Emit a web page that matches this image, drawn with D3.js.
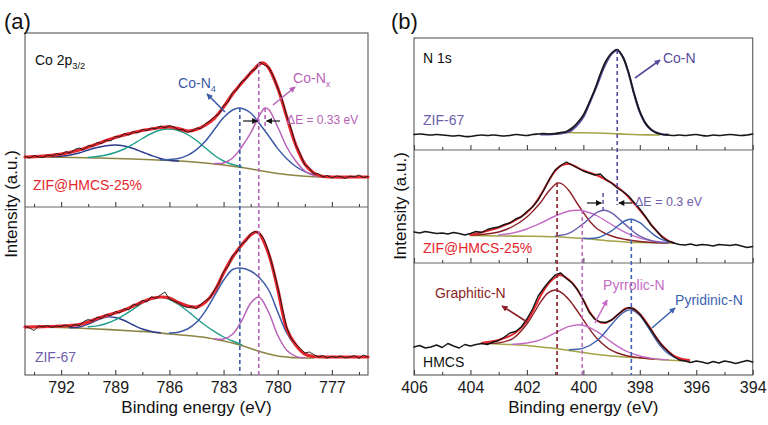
<!DOCTYPE html>
<html><head><meta charset="utf-8">
<script src="https://cdn.jsdelivr.net/npm/d3@7"></script>
<style>body{margin:0;background:#fff}svg{display:block;font-family:"Liberation Sans",Arial,sans-serif}</style>
</head><body><script>
// ---------------- DATA (intensities in a.u.) ----------------
// Panel (a) Co 2p3/2 — energy grid for raw data: start 794 eV, step 0.25 eV
const aStart = 794, aStep = 0.25;
const a1Raw = [50.5,49,51.5,50,49.5,52,51,53.5,52,55.5,54,57.5,59,57,61.5,60.5,64.5,63.5,67,66,70.5,70,73.5,72,75.5,74,77.5,76.5,79,78,81,79,81.5,80,77,77.5,74.5,76,79,78.5,83.5,86,90.5,93,101.5,105,114.5,117.5,125.5,128,135.5,137.5,145,142,140,131,119,107.5,91,78,62,53.5,42,39,33,33.5,30,31.5,29,31,30.5,28.5,31,30,32,29.5,30.5];
const a1Fit = [[794,50],[793,50.8],[792,52.8],[791,57],[790.5,60],[790,63],[789.5,66.5],[789,69.5],[788.5,72],[788,74.5],[787.5,76.5],[787,78],[786.5,79.5],[786,80],[785.5,78.5],[785,76],[784.5,77.5],[784,82],[783.5,89],[783,100],[782.5,113],[782,124],[781.5,134],[781,143],[780.8,144],[780.5,139],[780,119],[779.5,90],[779,62],[778.5,43],[778,34],[777.5,30.5],[777,30],[776,30],[775,30]];
const a1Bg = [[794,50],[792,49.7],[790,49],[788,48],[786,46.5],[785,45.5],[784,44],[783,42],[782,39.5],[781,36.5],[780,33.5],[779,31.5],[778,30.2],[777.5,30]];
const a1Sat = [[792.5,50.2],[792,50.8],[791.5,52],[791,54],[790.5,57],[790,59.5],[789.5,61.3],[789,62],[788.5,61],[788,58.5],[787.5,55],[787,51.5],[786.5,48.5],[786,46.8],[785.5,46]];
const a1Sat2 = [[790.5,49.5],[790,50.5],[789.5,52],[789,54.5],[788.5,58],[788,63],[787.5,68.5],[787,73.5],[786.5,77],[786.1,78],[785.5,76.5],[785,72.5],[784.5,66.5],[784,59],[783.5,51.5],[783,46],[782.5,42.5],[782,40.2]];
const a1CoN4 = [[786.5,47.2],[786,47.5],[785.5,48.6],[785,51.6],[784.5,57.4],[784,66],[783.5,77.7],[783,89.4],[782.5,97],[782.1,99],[781.5,94],[781,83],[780.5,71],[780,58.4],[779.5,48.3],[779,40.5],[778.5,35.4],[778,32.2],[777.5,31]];
const a1CoNx = [[783.5,43.5],[783,44],[782.5,49],[782,60],[781.5,74],[781,92],[780.7,99],[780.5,97.5],[780,80],[779.5,60],[779,46],[778.5,36],[778,31.5],[777.5,30.2]];

const a2Raw = [48.5,47,44.5,49,48,49.5,47.5,49,48.5,50,48,50.5,49.5,53.5,55.5,54,58,56.5,60.5,59,63.5,62,66.5,65,71,69.5,75,73,78.5,76.5,80,83,76,74,72,69,67.5,68.5,66,71,74.5,77,85.5,92,103.5,108.5,119.5,123,131.5,134,141.5,143.5,142,135.5,123,106.5,88,67.5,47.5,36,31,26.5,22,23,20.5,18,19.5,17,18.5,17.5,19,17,18,19.5,16.5,20,18];
const a2Fit = [[794,48],[793,48.3],[792,49],[791.5,49.5],[791,50.5],[790.5,53],[790,56.5],[789.5,59.5],[789,62],[788.5,65],[788,69],[787.5,73],[787,76.5],[786.5,78],[786,77],[785.5,72.5],[785,69],[784.5,68],[784,73],[783.5,84],[783,102],[782.5,118],[782,130],[781.5,140],[781.2,143],[781,141],[780.5,121],[780,86],[779.5,46],[779,30],[778.5,21],[778,18.5],[777.5,18],[777,18],[776,18],[775,18]];
const a2Bg = [[794,48],[792,47.5],[790,46],[788,44],[787,43],[786,41],[785,39.5],[784,37.5],[783,34],[782.5,32],[782,29.5],[781.5,26.5],[781,23.5],[780.5,21],[780,19],[779.5,18],[779,17.2],[778,17]];
const a2Sat = [[791.5,47.2],[791,48],[790.5,51],[790,55],[789.5,58],[789,57.5],[788.5,54.5],[788,50],[787.5,46],[787,43.5],[786.5,42.2]];
const a2Sat2 = [[790.5,48.3],[790,49.1],[789.5,51.5],[789,55.2],[788.5,60.2],[788,65.9],[787.5,71.8],[787,76.2],[786.4,77.8],[786,75.4],[785.5,70.7],[785,64],[784.5,56.5],[784,49.5],[783.5,43.3],[783,38],[782.5,34],[782,30.4]];
const a2CoN4 = [[786,41.9],[785.5,42.8],[785,46],[784.5,52.7],[784,64.2],[783.5,79.3],[783,94.7],[782.5,105.5],[782.1,107],[781.5,104],[781,97],[780.5,85],[780,63],[779.5,42],[779,29],[778.5,21],[778,17.5]];
const a2CoNx = [[783.5,36.3],[783,36],[782.5,40.7],[782,54.1],[781.5,71.8],[781.05,78],[780.5,62.5],[780,39.7],[779.5,24.7],[779,18.6],[778.5,17.2]];

// Panel (b) N 1s — energy grid for raw data: start 406 eV, step 0.2 eV
const bStart = 406, bStep = 0.2;
const b1Raw = [15.5,16,15.5,15,15.5,15,14.5,14,14.5,13.5, 13.5,14.5,15,14.5,15,14.5,14,14.5,15.5,15, 14.5,15.5,16,16.5,16,16.5,17.5,18.5,22,27.5, 35,47,60,76,89,97,100.5,93,77.5,56, 38.5,27,20.5,17,15.5,15,14.5,15,14.5,15, 15.5,14.5,14,15,14.5,15,15.5,15,14.5,15, 16];
const b1CoN = [[401.5,15.5],[401,16],[400.5,18.5],[400.25,24],[400,33],[399.75,49],[399.5,66],[399.25,84],[399,96],[398.8,99.5],[398.6,93],[398.4,77],[398.2,56],[398,38],[397.75,24.5],[397.5,18.5],[397.25,16],[397,15.3]];
const b1Bg = [[400.8,17.5],[400,17.3],[399,16.5],[398.5,15.8],[398,15.3],[397.3,15]];

const b2Raw = [31,30,31.5,30.5,29.5,30,29,30.5,29.5,28, 29.5,31.5,30.5,33.5,35,36,38.5,40,44,46, 51.5,56,63,73,84,93,97.5,101,98,95, 92,90,88,89,83.5,80,75,71.5,67,60.5, 54,46.5,38,32,25.5,22,20,18.5,18,19, 17.5,18.5,18,17,18.5,18,17.5,18.5,17,15.5, 16.5];
const b2Fit = [[404,28],[403.5,31.5],[403,35.5],[402.5,41.5],[402,50.5],[401.75,58],[401.5,68.5],[401.25,81],[401,92],[400.75,98],[400.5,99],[400.25,96],[400,92.5],[399.75,90],[399.5,87.5],[399.25,84],[399,80],[398.75,75],[398.5,69],[398.25,61],[398,53],[397.75,44],[397.5,35],[397.25,27.5],[397,22.5],[396.8,20]];
const b2Bg = [[404,27.5],[403,27],[402,26.8],[401,26.2],[400,24.5],[399,22],[398.5,21],[398,20.5],[397,20],[396.8,20]];
const b2Graph = [[404,27.8],[403.5,28.8],[403,31],[402.5,36.5],[402,46],[401.75,53],[401.5,61],[401.25,71],[401,78.5],[400.93,80],[400.75,79],[400.5,72],[400.25,61],[400,50.5],[399.75,41],[399.5,34],[399,27],[398.5,23.5],[398,21.5],[397.5,20.5],[397,20]];
const b2Pyrr = [[403,28],[402.5,30],[402,34],[401.5,40],[401,47],[400.5,52],[400.15,52.7],[399.75,50],[399.5,47],[399,38.5],[398.5,30.4],[398,24.9],[397.5,21.9],[397,20.5]];
const b2CoN = [[401,26.9],[400.5,29.8],[400,39.4],[399.5,50.9],[399.25,52.7],[399,50.2],[398.5,38.1],[398,26.8],[397.5,21.6],[397,20.2]];
const b2Pyri = [[400,24.7],[399.5,25.3],[399,32.2],[398.75,37.8],[398.5,42.5],[398.3,43.8],[398,40.3],[397.75,34.3],[397.5,28.1],[397.25,23.8],[397,21.4],[396.8,20.5]];

const b3Raw = [28,29.5,27,28,30,27.5,31.5,29,27,30.5, 29,30.5,31.5,30.5,33,34.5,38,42,43.5,48, 56,66,79,87,94,100,102,96.5,92,85, 75,63,56,53,52.5,55,60,64.5,67.5,66, 61,53,45,36.5,29,23.5,18.5,15,14,12.5, 14,13,11.5,13.5,12,14,13,11.5,13,14.5, 13];
const b3Fit = [[403.6,32],[403.5,32.5],[403,35],[402.5,40.5],[402.25,46],[402,54],[401.75,66],[401.5,80],[401.25,91],[401,97.5],[400.83,100],[400.5,95],[400.25,87],[400,75],[399.75,62],[399.5,54],[399.25,52],[399,55],[398.75,61],[398.5,66.5],[398.35,67],[398.25,66.5],[398,61],[397.75,52],[397.5,41],[397.25,31],[397,24],[396.75,18.5],[396.5,16],[396.25,15]];
const b3Bg = [[403.6,32],[403,31],[402,29.5],[401.5,28],[401,26.5],[400.5,24.5],[400,22.5],[399.5,20.5],[399,19],[398.5,18],[398,17],[397.5,16],[397,15],[396.5,14.3],[396.25,14]];
const b3Graph = [[403.5,32],[403,32.1],[402.5,36.4],[402,51],[401.75,62],[401.5,73.6],[401.25,82.1],[401,85],[400.75,81.9],[400.5,75],[400.25,65.5],[400,55],[399.75,44.8],[399.5,36.1],[399,24.6],[398.5,19.5],[398,17.3],[397.5,16]];
const b3Pyrr = [[402.5,30.8],[402,32],[401.5,35.4],[401,42.1],[400.5,48.6],[400.05,50],[399.5,43.2],[399,32.8],[398.5,24.1],[398,19],[397.5,16.4],[397,15.1]];
const b3Pyri = [[400.5,25.3],[400,26.8],[399.5,34.8],[399,50.5],[398.75,58.4],[398.5,63.9],[398.3,65],[398,59.6],[397.75,49.7],[397.5,38.3],[397.25,28.4],[397,21.5],[396.75,17.5],[396.5,15.3],[396.25,14.1]];

// Tick values
const aMajor = [792,789,786,783,780,777];
const aMinor = [793.5,790.5,787.5,784.5,781.5,778.5,775.5];
const bMajor = [406,404,402,400,398,396,394];
const bMinor = [405,403,401,399,397,395];

// ---------------- DRAWING ----------------
const W=768,H=425, FONT='"Liberation Sans",Arial,sans-serif';
const C = {red:"#e5262d", raw:"#161616", navy:"#2d3a8e", teal:"#1f9e8a", blue:"#3d5aa8", pink:"#b862b8",
  olive:"#8b8442", oliveB:"#a4a446", maroon:"#8b1f26", pinkB:"#c46cc4", slate:"#6a5eae", blueB:"#3d62b0", coN:"#574c9c",
  zif:"#6f60ad", frame:"#666"};
const svg=d3.select("body").append("svg").attr("width",W).attr("height",H).attr("font-family",FONT);

const xA=d3.scaleLinear().domain([794,775]).range([25,368]);
const xB=d3.scaleLinear().domain([406,394]).range([414,752.7]);
const yA1=d3.scaleLinear().domain([0,174]).range([207,33]);
const yA2=d3.scaleLinear().domain([0,168]).range([375,207]);
const yB1=d3.scaleLinear().domain([0,112]).range([150,38]);
const yB2=d3.scaleLinear().domain([0,113]).range([263,150]);
const yB3=d3.scaleLinear().domain([0,112]).range([375,263]);

const defs = svg.append("defs");
function marker(id,color){
  defs.append("marker").attr("id",id).attr("viewBox","0 0 10 10").attr("refX",9).attr("refY",5)
    .attr("markerWidth",7).attr("markerHeight",6).attr("markerUnits","userSpaceOnUse").attr("orient","auto")
    .append("path").attr("d","M0,0L10,5L0,10z").attr("fill",color);
}
Object.entries({mBlue:C.blue,mPink:C.pink,mBlack:"#111",mCoN:C.coN,mMaroon:C.maroon,mPinkB:C.pinkB,mBlueB:C.blueB}).forEach(([k,v])=>marker(k,v));

const rawPts=(start,step,vals)=>vals.map((v,i)=>[start-i*step,v]);
function curve(x,y,pts,color,w,smooth){
  svg.append("path").datum(pts).attr("fill","none").attr("stroke",color).attr("stroke-width",w)
    .attr("stroke-linejoin","round").attr("stroke-linecap","round")
    .attr("d",d3.line().x(d=>x(d[0])).y(d=>y(d[1])).curve(smooth?d3.curveCatmullRom.alpha(0.5):d3.curveLinear));
}
function frame(x0,x1,y0,y1){
  svg.append("rect").attr("x",x0).attr("y",y0).attr("width",x1-x0).attr("height",y1-y0)
    .attr("fill","none").attr("stroke",C.frame).attr("stroke-width",1.2);
}
function xAxis(x,yPos,major,minor,labels){
  const gm=svg.append("g").attr("transform",`translate(0,${yPos})`).call(d3.axisBottom(x).tickValues(minor).tickSize(-3).tickFormat(""));
  const g=svg.append("g").attr("transform",`translate(0,${yPos})`).call(d3.axisBottom(x).tickValues(major).tickSize(-5).tickPadding(6.5).tickFormat(labels?d3.format("d"):""));
  [gm,g].forEach(gg=>{gg.select(".domain").remove();gg.attr("font-family",FONT).attr("font-size",16);
    gg.selectAll("line").attr("stroke","#444").attr("stroke-width",1.1);gg.selectAll("text").attr("fill","#1a1a1a");});
}
function txt(x,y,E,v,str,sub,color,size){
  const t=svg.append("text").attr("x",x(E)).attr("y",y(v)).attr("fill",color).attr("font-size",size).text(str);
  if(sub) t.append("tspan").attr("font-size",size*0.66).attr("dy",size*0.28).text(sub);
  return t;
}
function arrow(x,y,p,color,mk,w){
  svg.append("line").attr("x1",x(p[0])).attr("y1",y(p[1])).attr("x2",x(p[2])).attr("y2",y(p[3]))
    .attr("stroke",color).attr("stroke-width",w||1.6).attr("marker-end",`url(#${mk})`);
}
function vdash(x,E,y1,v1,y2,v2,color){
  svg.append("line").attr("x1",x(E)).attr("x2",x(E)).attr("y1",y1(v1)).attr("y2",y2(v2))
    .attr("stroke",color).attr("stroke-width",1.6).attr("stroke-dasharray","4,3");
}

// ---- panel (a)
frame(25,368,33,375);
svg.append("line").attr("x1",25).attr("x2",368).attr("y1",207).attr("y2",207).attr("stroke",C.frame).attr("stroke-width",1.2);
xAxis(xA,207,aMajor,aMinor,false);
xAxis(xA,375,aMajor,aMinor,true);
// top: ZIF@HMCS-25%
curve(xA,yA1,a1Bg,C.olive,1.6,true);
curve(xA,yA1,a1Sat,C.navy,1.4,true);
curve(xA,yA1,a1Sat2,C.teal,1.4,true);
curve(xA,yA1,a1CoN4,C.blue,1.5,true);
curve(xA,yA1,a1CoNx,C.pink,1.5,true);
curve(xA,yA1,a1Fit,C.red,3.2,true);
curve(xA,yA1,rawPts(aStart,aStep,a1Raw),C.raw,0.9,false);
// bottom: ZIF-67
curve(xA,yA2,a2Bg,C.olive,1.6,true);
curve(xA,yA2,a2Sat,C.navy,1.4,true);
curve(xA,yA2,a2Sat2,C.teal,1.4,true);
curve(xA,yA2,a2CoN4,C.blue,1.5,true);
curve(xA,yA2,a2CoNx,C.pink,1.5,true);
curve(xA,yA2,a2Fit,C.red,3.2,true);
curve(xA,yA2,rawPts(aStart,aStep,a2Raw),C.raw,0.9,false);
// dashed guides
vdash(xA,782.1,yA1,99,yA2,0,C.blue);
vdash(xA,781.05,yA1,144,yA2,0,C.pink);
vdash(xA,780.7,yA1,99,yA1,77,C.pink);
// annotations
txt(xA,yA1,793.45,142,"Co 2p","3/2","#111",14);
txt(xA,yA1,793.56,17,"ZIF@HMCS-25%",null,C.red,14);
txt(xA,yA2,793.45,13,"ZIF-67",null,C.zif,14);
txt(xA,yA1,785.52,119,"Co-N","4",C.blue,14);
arrow(xA,yA1,[782.92,95,783.92,113],C.blue,"mBlue");
txt(xA,yA1,779.15,124,"Co-N","x",C.pink,14);
arrow(xA,yA1,[780.26,102,779.04,120],C.pink,"mPink");
txt(xA,yA1,779.48,83,"ΔE = 0.33 eV",null,C.pink,12);
arrow(xA,yA1,[781.92,86,781.12,86],"#111","mBlack",1.2);
arrow(xA,yA1,[779.87,86,780.62,86],"#111","mBlack",1.2);

// ---- panel (b)
frame(414,752.7,38,375);
[150,263].forEach(yy=>svg.append("line").attr("x1",414).attr("x2",752.7).attr("y1",yy).attr("y2",yy).attr("stroke",C.frame).attr("stroke-width",1.2));
xAxis(xB,150,bMajor,bMinor,false);
xAxis(xB,263,bMajor,bMinor,false);
xAxis(xB,375,bMajor,bMinor,true);
// top: ZIF-67
curve(xB,yB1,b1Bg,C.oliveB,1.6,true);
curve(xB,yB1,b1CoN,C.coN,2.2,true);
curve(xB,yB1,rawPts(bStart,bStep,b1Raw),C.raw,1.6,true);
// middle: ZIF@HMCS-25%
curve(xB,yB2,b2Bg,C.oliveB,1.6,true);
curve(xB,yB2,b2Graph,C.maroon,1.4,true);
curve(xB,yB2,b2Pyrr,C.pinkB,1.4,true);
curve(xB,yB2,b2CoN,C.slate,1.4,true);
curve(xB,yB2,b2Pyri,C.blueB,1.4,true);
curve(xB,yB2,b2Fit,C.red,2,true);
curve(xB,yB2,rawPts(bStart,bStep,b2Raw),C.raw,1.4,false);
// bottom: HMCS
curve(xB,yB3,b3Bg,C.oliveB,1.6,true);
curve(xB,yB3,b3Graph,C.maroon,1.4,true);
curve(xB,yB3,b3Pyrr,C.pinkB,1.4,true);
curve(xB,yB3,b3Pyri,C.blueB,1.4,true);
curve(xB,yB3,b3Fit,C.red,2,true);
curve(xB,yB3,rawPts(bStart,bStep,b3Raw),C.raw,1.4,false);
// dashed guides
vdash(xB,398.8,yB1,100,yB2,58,C.coN);
vdash(xB,399.3,yB2,70,yB2,53,C.slate);
vdash(xB,400.93,yB2,80,yB3,0,C.maroon);
vdash(xB,400.04,yB2,53,yB3,0,C.pinkB);
vdash(xB,398.3,yB2,44,yB3,0,C.blueB);
// annotations
txt(xB,yB1,405.68,87,"N 1s",null,"#111",14);
txt(xB,yB1,405.68,25,"ZIF-67",null,C.zif,14);
txt(xB,yB1,397.18,87,"Co-N",null,C.coN,14);
arrow(xB,yB1,[398.17,72,397.28,90],C.coN,"mCoN");
txt(xB,yB2,398.17,57,"ΔE = 0.3 eV",null,C.zif,12.5);
arrow(xB,yB2,[399.87,60,399.36,60],"#111","mBlack",1.2);
arrow(xB,yB2,[398.27,60,398.74,60],"#111","mBlack",1.2);
txt(xB,yB2,405.68,10,"ZIF@HMCS-25%",null,C.red,14);
txt(xB,yB3,405.68,8,"HMCS",null,"#111",14);
txt(xB,yB3,405.26,77,"Graphitic-N",null,C.maroon,14);
arrow(xB,yB3,[401.99,53,402.88,69],C.maroon,"mMaroon");
txt(xB,yB3,399.3,85,"Pyrrolic-N",null,C.pinkB,14);
arrow(xB,yB3,[399.59,52,399.16,75],C.pinkB,"mPinkB");
txt(xB,yB3,396.75,70,"Pyridinic-N",null,C.blueB,14);
arrow(xB,yB3,[397.57,47,396.75,67],C.blueB,"mBlueB");

// ---- titles
svg.append("text").attr("x",4).attr("y",29).attr("font-size",22).attr("fill","#111").text("(a)");
svg.append("text").attr("x",391).attr("y",29).attr("font-size",22).attr("fill","#111").text("(b)");
[[196.5,"a"],[583.3,"b"]].forEach(([cx])=>svg.append("text").attr("x",cx).attr("y",413).attr("text-anchor","middle").attr("font-size",17).attr("fill","#111").text("Binding energy (eV)"));
[[17,204],[406,206]].forEach(([tx,ty])=>svg.append("text").attr("transform",`translate(${tx},${ty}) rotate(-90)`).attr("text-anchor","middle").attr("font-size",17).attr("fill","#111").text("Intensity (a.u.)"));
</script></body></html>
